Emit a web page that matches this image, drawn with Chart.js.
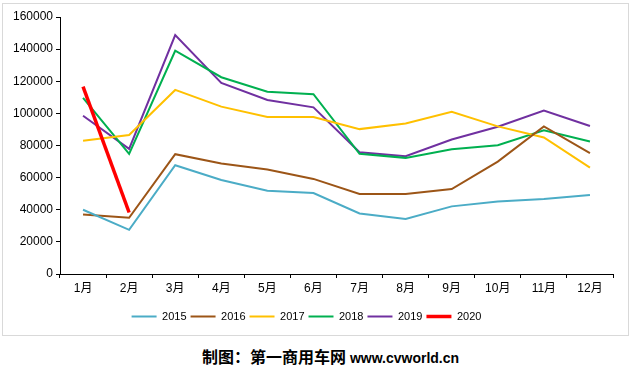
<!DOCTYPE html>
<html>
<head>
<meta charset="utf-8">
<script src="https://cdn.jsdelivr.net/npm/chart.js@4/dist/chart.umd.min.js"></script>
<style>
  html, body { margin: 0; padding: 0; background: #fff; }
  body { width: 632px; height: 367px; position: relative; overflow: hidden; }
  #frame { position: absolute; left: 2px; top: 3px; width: 625px; height: 331px; border: 1px solid #d9d9d9; box-sizing: content-box; }
  #wrap { position: absolute; left: 0; top: 0; width: 632px; height: 335px; }
  #credit { position: absolute; left: 202px; top: 344px; white-space: nowrap; font-weight: bold; color: #000; }
  #credit .cn { font-family: "Noto Sans CJK SC", sans-serif; font-size: 16px; }
  #credit .en { font-family: "Liberation Sans", Arial, sans-serif; font-size: 14px; }
</style>
</head>
<body>
<div id="frame"></div>
<div id="wrap"><canvas id="c"></canvas></div>
<div id="credit"><span class="cn">制图：第一商用车网</span><span class="en"> www.cvworld.cn</span></div>
<script>
const categories = ['1月','2月','3月','4月','5月','6月','7月','8月','9月','10月','11月','12月'];
const yTicks = [0, 20000, 40000, 60000, 80000, 100000, 120000, 140000, 160000];
const s2015 = [40000, 27500, 67700, 58500, 51900, 50400, 37700, 34200, 42100, 45200, 46700, 49200];
const s2016 = [37100, 35000, 74600, 68750, 65000, 59200, 49800, 49800, 52900, 70000, 91900, 75200];
const s2017 = [82900, 86500, 114600, 104200, 97700, 97700, 90200, 93750, 101000, 91900, 85000, 66250];
const s2018 = [109600, 74800, 139000, 122500, 113500, 111900, 74800, 72300, 77700, 80200, 89400, 82500];
const s2019 = [98500, 77900, 148750, 119000, 108300, 103750, 75800, 73300, 83750, 91700, 101700, 92100];
const s2020 = [116700, 38300];

const mk = (label, data, color, width, order) => ({
  label, data, borderColor: color, backgroundColor: color, borderWidth: width,
  pointRadius: 0, pointHoverRadius: 0, tension: 0, fill: false, order
});

new Chart(document.getElementById('c'), {
  type: 'line',
  data: {
    labels: categories,
    datasets: [
      mk('2015', s2015, '#4bacc6', 2, 1),
      mk('2016', s2016, '#9c5517', 2, 1),
      mk('2017', s2017, '#ffc000', 2, 1),
      mk('2018', s2018, '#00b050', 2, 1),
      mk('2019', s2019, '#7030a0', 2, 1),
      mk('2020', s2020, '#ff0000', 3.5, 0)
    ]
  },
  options: {
    responsive: true,
    maintainAspectRatio: false,
    animation: false,
    layout: { padding: { top: 17, right: 19, left: 0, bottom: 3 } },
    plugins: {
      tooltip: { enabled: false },
      legend: {
        position: 'bottom',
        labels: {
          usePointStyle: true,
          pointStyle: 'line',
          pointStyleWidth: 25,
          padding: 4,
          color: '#000',
          font: { family: '"Liberation Sans", Arial, sans-serif', size: 11 },
          sort: (a, b) => a.datasetIndex - b.datasetIndex
        }
      }
    },
    scales: {
      x: {
        type: 'category',
        offset: true,
        grid: { offset: true, drawOnChartArea: false, drawTicks: true, tickLength: 4, color: '#000' },
        border: { color: '#000', width: 1 },
        ticks: { color: '#000', padding: 3, maxRotation: 0, autoSkip: false,
          font: { family: '"Liberation Sans", "Noto Sans CJK SC", sans-serif', size: 12 } },
        afterFit: (s) => { s.height = 33; }
      },
      y: {
        min: 0, max: 160000,
        afterBuildTicks: (s) => { s.ticks = yTicks.map(v => ({ value: v })); },
        grid: { drawOnChartArea: false, drawTicks: true, tickLength: 4, color: '#000' },
        border: { color: '#000', width: 1 },
        ticks: { color: '#000', padding: 3, callback: (v) => String(v),
          font: { family: '"Liberation Sans", Arial, sans-serif', size: 12 } },
        afterFit: (s) => { s.width = 60; }
      }
    }
  }
});
</script>
</body>
</html>
